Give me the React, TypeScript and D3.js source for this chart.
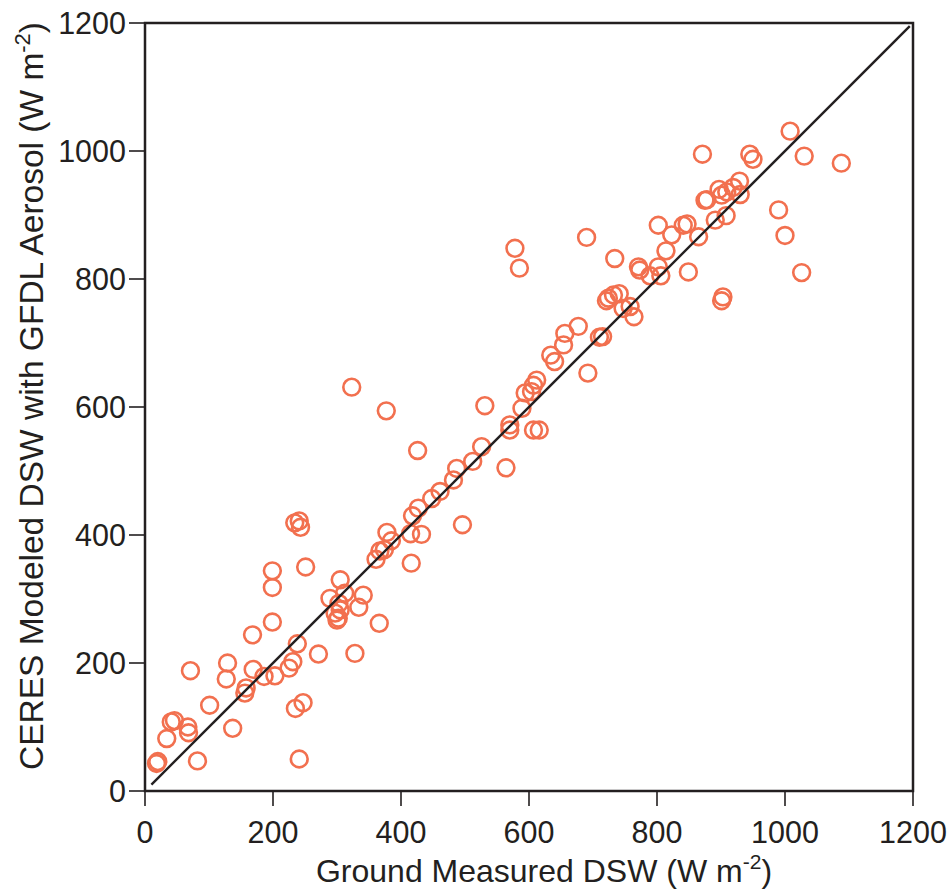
import React from 'react';
import * as d3 from 'd3';

const groundDSW = [
  18, 20, 34, 41, 46, 67, 68, 71, 82, 101,
  127, 129, 137, 156, 158, 168, 169, 186, 199, 199,
  199, 203, 225, 231, 234, 241, 243, 235, 247, 238,
  241, 251, 271, 289, 297, 302, 305, 300, 303, 305,
  312, 334, 341, 328, 323, 366, 361, 367, 374, 377,
  378, 385, 415, 416, 418, 426, 427, 432, 448, 461,
  482, 487, 496, 512, 526, 531, 564, 570, 570, 578,
  585, 589, 594, 604, 607, 612, 607, 616, 634, 640,
  654, 656, 677, 690, 692, 710, 715, 721, 724, 732,
  741, 734, 747, 758, 764, 771, 773, 789, 802, 806,
  802, 814, 823, 841, 847, 849, 865, 871, 875, 878,
  891, 897, 901, 901, 903, 908, 909, 919, 929, 930,
  945, 950, 990, 1000, 1008, 1026, 1030, 1088,
];

const modeledDSW = [
  43, 46, 82, 108, 110, 100, 91, 188, 47, 134,
  175, 200, 98, 153, 161, 244, 190, 179, 344, 318,
  264, 180, 192, 202, 419, 422, 412, 129, 138, 230,
  50, 350, 214, 301, 278, 270, 283, 267, 293, 330,
  309, 287, 306, 215, 631, 262, 362, 375, 377, 594,
  404, 391, 402, 356, 430, 532, 442, 401, 457, 468,
  486, 504, 416, 515, 538, 602, 505, 572, 564, 848,
  817, 598, 622, 624, 634, 642, 564, 564, 681, 671,
  697, 715, 726, 865, 653, 709, 710, 766, 770, 775,
  777, 832, 754, 757, 741, 819, 814, 805, 819, 805,
  884, 844, 869, 884, 886, 811, 866, 995, 923, 924,
  892, 940, 931, 766, 772, 899, 936, 943, 953, 932,
  995, 987, 908, 868, 1031, 810, 992, 981,
];

const xTicks = [0, 200, 400, 600, 800, 1000, 1200];
const yTicks = [0, 200, 400, 600, 800, 1000, 1200];
const oneToOne = [10, 1195];

export default function App() {
  const W = 951;
  const H = 892;
  const x = d3.scaleLinear().domain([0, 1200]).range([145, 913]);
  const y = d3.scaleLinear().domain([0, 1200]).range([791, 23]);
  const font = 'Liberation Sans, Arial, Helvetica, sans-serif';
  const axisColor = '#231f20';
  const pointColor = '#f2704f';
  const lineGen = d3
    .line<number>()
    .x((d) => x(d))
    .y((d) => y(d));

  return (
    <svg
      width={W}
      height={H}
      viewBox={`0 0 ${W} ${H}`}
      style={{ position: 'absolute', left: 0, top: 0, background: '#fff' }}
      fontFamily={font}
    >
      <rect x={0} y={0} width={W} height={H} fill="#fff" />
      {/* points */}
      <g>
        {groundDSW.map((g, i) => (
          <circle
            key={i}
            cx={x(g)}
            cy={y(modeledDSW[i])}
            r={8.4}
            fill="none"
            stroke={pointColor}
            strokeWidth={2.6}
          />
        ))}
      </g>
      {/* 1:1 line */}
      <path d={lineGen(oneToOne) || ''} stroke={axisColor} strokeWidth={2.4} fill="none" />
      {/* frame */}
      <rect
        x={x(0)}
        y={y(1200)}
        width={x(1200) - x(0)}
        height={y(0) - y(1200)}
        fill="none"
        stroke={axisColor}
        strokeWidth={2.5}
      />
      {/* x ticks */}
      <g>
        {xTicks.map((t) => (
          <g key={t}>
            <line x1={x(t)} x2={x(t)} y1={y(0)} y2={y(0) + 15} stroke={axisColor} strokeWidth={1.6} />
            <text x={x(t)} y={843} textAnchor="middle" fontSize={30.5} fill={axisColor}>
              {t}
            </text>
          </g>
        ))}
      </g>
      {/* y ticks */}
      <g>
        {yTicks.map((t) => (
          <g key={t}>
            <line x1={x(0) - 16} x2={x(0)} y1={y(t)} y2={y(t)} stroke={axisColor} strokeWidth={1.6} />
            <text x={126} y={y(t) + 11} textAnchor="end" fontSize={30.5} fill={axisColor}>
              {t}
            </text>
          </g>
        ))}
      </g>
      {/* x title */}
      <text x={544} y={882} textAnchor="middle" fontSize={32} fill={axisColor}>
        Ground Measured DSW (W m
        <tspan fontSize={21} dy={-13}>-2</tspan>
        <tspan dy={13}>)</tspan>
      </text>
      {/* y title */}
      <text
        transform={`translate(43, 396) rotate(-90)`}
        textAnchor="middle"
        fontSize={33.5}
        fill={axisColor}
      >
        CERES Modeled DSW with GFDL Aerosol (W m
        <tspan fontSize={22} dy={-13}>-2</tspan>
        <tspan dy={13}>)</tspan>
      </text>
    </svg>
  );
}
